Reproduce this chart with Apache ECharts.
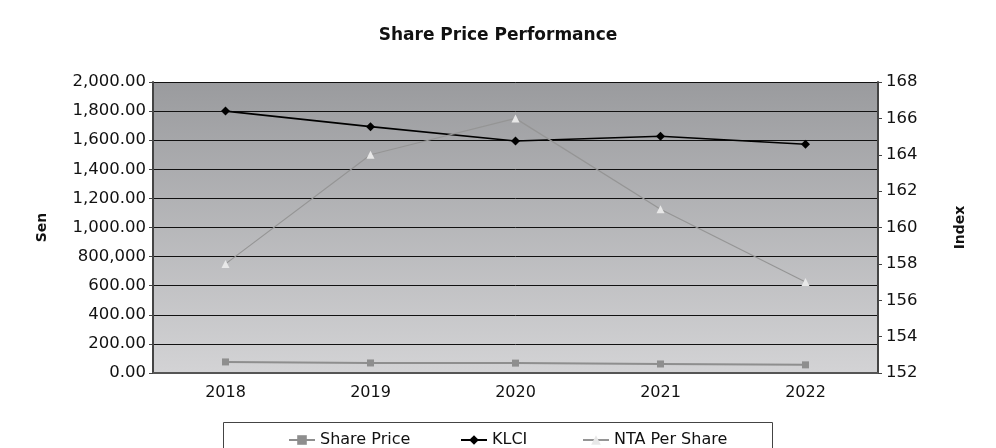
<!DOCTYPE html>
<html>
<head>
<meta charset="utf-8">
<script src="https://cdn.jsdelivr.net/npm/echarts@6/dist/echarts.min.js"></script>
<style>html,body{margin:0;padding:0;background:#fff;}#c{width:996px;height:448px;}</style>
</head>
<body>
<div id="c"></div>
<script>
var categories = ['2018', '2019', '2020', '2021', '2022'];
var sharePrice = [76, 69, 68, 62, 56];
var klci = [1800, 1693, 1594, 1627, 1572];
var ntaPerShare = [158, 164, 166, 161, 157];
var leftTickLabels = ['0.00', '200.00', '400.00', '600.00', '800,000', '1,000.00', '1,200.00', '1,400.00', '1,600.00', '1,800.00', '2,000.00'];
var rightTickLabels = ['152', '154', '156', '158', '160', '162', '164', '166', '168'];

var FONT = 'DejaVu Sans';
var chart = echarts.init(document.getElementById('c'));
var legendCommon = {
  orient: 'horizontal', top: 426, itemWidth: 26, itemHeight: 12, itemGap: 0,
  textStyle: { fontFamily: FONT, fontSize: 16, color: '#111', lineHeight: 18 }
};
chart.setOption({
  animation: false,
  title: {
    text: 'Share Price Performance', left: 'center', top: 22,
    textStyle: { fontFamily: FONT, fontSize: 17, fontWeight: 'bold', color: '#111' }
  },
  graphic: [{
    type: 'rect', shape: { x: 223.5, y: 422.5, width: 549, height: 40 },
    style: { fill: '#fff', stroke: '#444', lineWidth: 1 }, z: 0
  }],
  legend: [
    Object.assign({ left: 283, data: ['Share Price'] }, legendCommon),
    Object.assign({ left: 455, data: ['KLCI'] }, legendCommon),
    Object.assign({ left: 577, data: ['NTA Per Share'] }, legendCommon)
  ],
  grid: {
    left: 153, right: 118, top: 82, bottom: 75, show: true, borderWidth: 0,
    outerBoundsMode: 'none', containLabel: false,
    backgroundColor: new echarts.graphic.LinearGradient(0, 0, 0, 1, [
      { offset: 0, color: '#9a9b9e' }, { offset: 1, color: '#d3d3d5' }
    ])
  },
  xAxis: {
    type: 'category', data: categories, boundaryGap: true,
    axisLine: { lineStyle: { color: '#555', width: 2 } },
    axisTick: { show: false },
    axisLabel: { fontFamily: FONT, fontSize: 16, color: '#111', margin: 12 }
  },
  yAxis: [{
    type: 'value', min: 0, max: 2000, interval: 200, position: 'left',
    name: 'Sen', nameLocation: 'middle', nameRotate: 90, nameGap: 104,
    nameTextStyle: { fontFamily: FONT, fontSize: 14, fontWeight: 'bold', color: '#111' },
    axisLine: { show: true, lineStyle: { color: '#444', width: 2 } },
    axisTick: { show: true, length: 4, lineStyle: { color: '#444' } },
    axisLabel: {
      fontFamily: FONT, fontSize: 16.5, color: '#111', margin: 7,
      formatter: function (v) { return leftTickLabels[Math.round(v / 200)]; }
    },
    splitLine: { show: true, lineStyle: { color: '#111', width: 1 } }
  }, {
    type: 'value', min: 152, max: 168, interval: 2, position: 'right',
    name: 'Index', nameLocation: 'middle', nameRotate: 90, nameGap: 75,
    nameTextStyle: { fontFamily: FONT, fontSize: 14, fontWeight: 'bold', color: '#111' },
    axisLine: { show: true, lineStyle: { color: '#444', width: 2 } },
    axisTick: { show: true, length: 4, lineStyle: { color: '#444' } },
    axisLabel: {
      fontFamily: FONT, fontSize: 16.5, color: '#111', margin: 8,
      formatter: function (v) { return rightTickLabels[Math.round((v - 152) / 2)]; }
    },
    splitLine: { show: false }
  }],
  series: [{
    name: 'Share Price', type: 'line', yAxisIndex: 0, data: sharePrice,
    symbol: 'rect', symbolSize: 7,
    lineStyle: { color: '#8e8e8e', width: 2 },
    itemStyle: { color: '#8e8e8e' }
  }, {
    name: 'KLCI', type: 'line', yAxisIndex: 0, data: klci,
    symbol: 'diamond', symbolSize: 9,
    lineStyle: { color: '#000', width: 1.6 },
    itemStyle: { color: '#000' }
  }, {
    name: 'NTA Per Share', type: 'line', yAxisIndex: 1, data: ntaPerShare,
    symbol: 'triangle', symbolSize: 8,
    lineStyle: { color: '#959595', width: 1.2 },
    itemStyle: { color: '#e8e8e8' }
  }]
});
</script>
</body>
</html>
